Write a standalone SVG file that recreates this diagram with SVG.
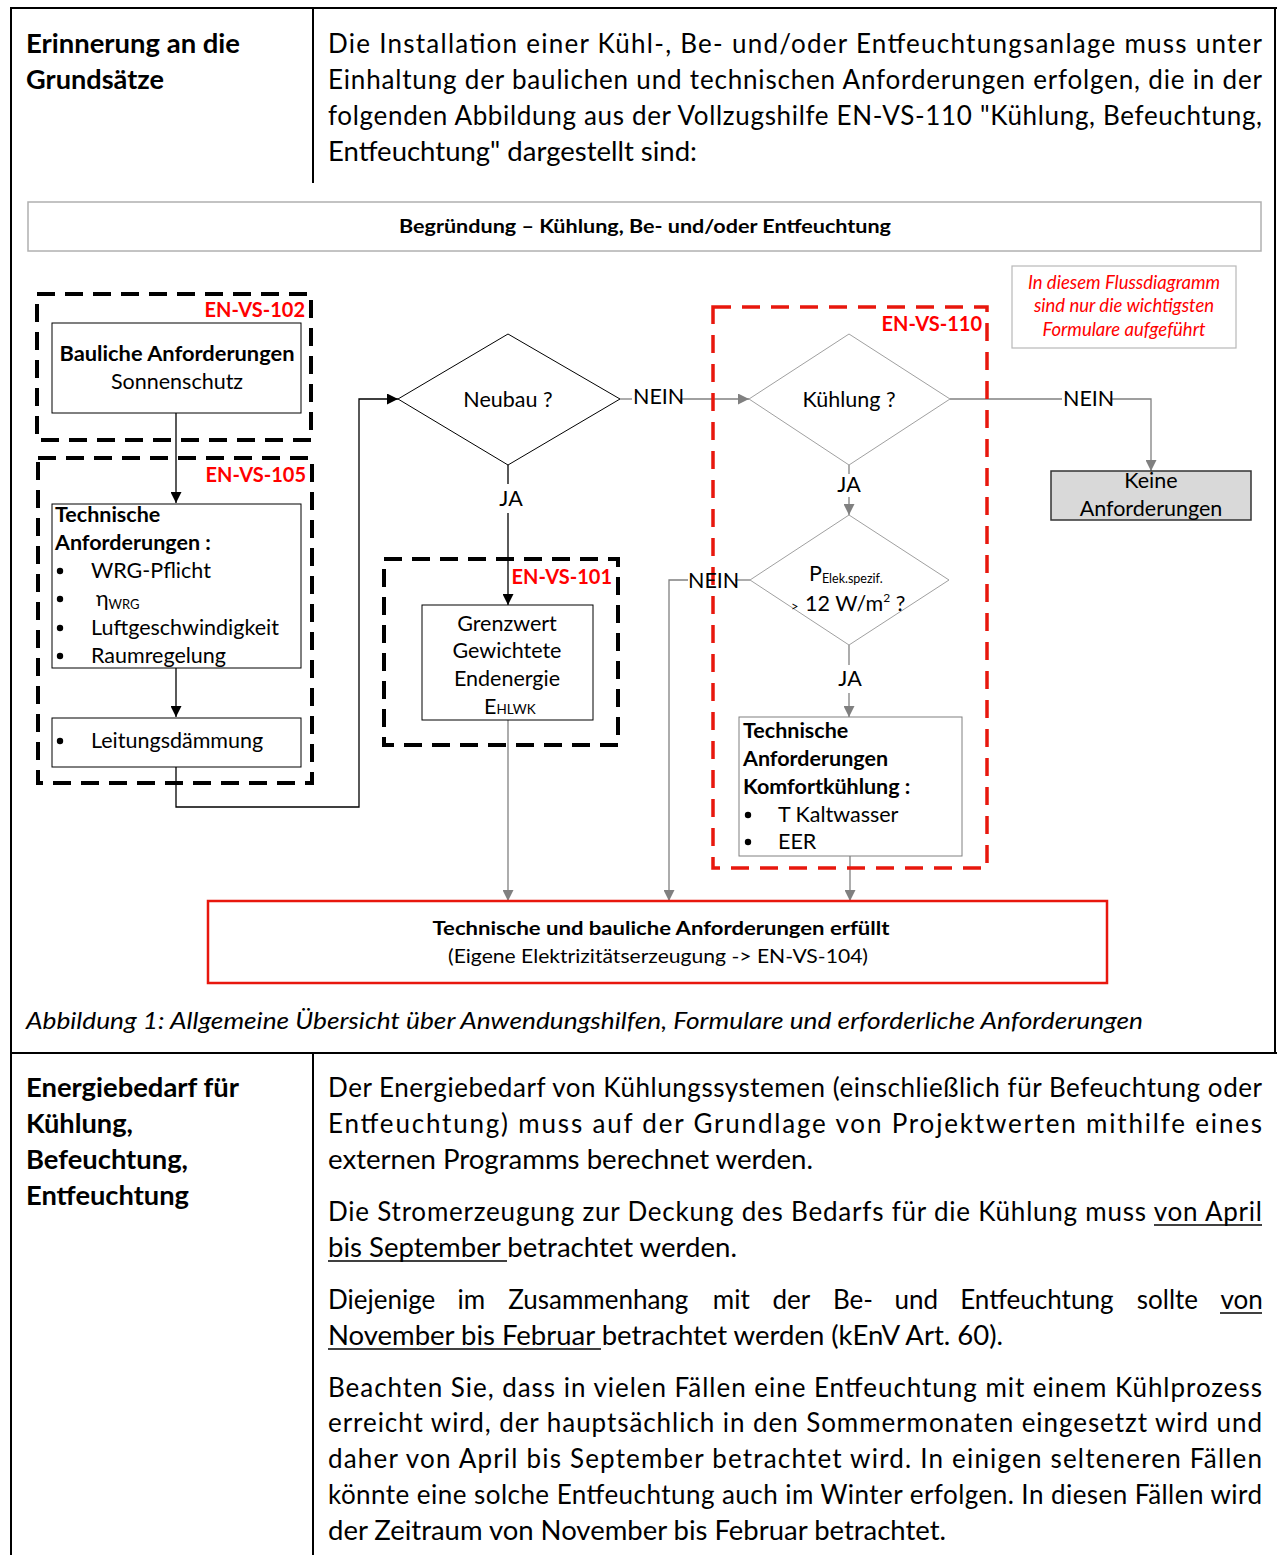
<svg xmlns="http://www.w3.org/2000/svg" width="1278" height="1555" viewBox="0 0 1278 1555">
<defs>
<style>
text{font-family:Lato,"Liberation Sans",sans-serif;fill:#000}
.body{font-size:26px}
.b{font-weight:bold}
.dg{font-size:21.5px}
.lab{font-size:20px;font-weight:bold;fill:#ff0000;text-anchor:end}
.note{font-size:18.5px;font-style:italic;fill:#ff0000;text-anchor:middle}
.mid{text-anchor:middle}
.tbl{stroke:#000;stroke-width:2;fill:none}
.bk{stroke:#000;stroke-width:1.3;fill:none}
.gr{stroke:#808080;stroke-width:1.3;fill:none}
.dashk{stroke:#000;stroke-width:4;fill:none;stroke-dasharray:18 10}
.dashr{stroke:#e8170d;stroke-width:3.5;fill:none;stroke-dasharray:18 11}
.box{fill:#fff;stroke:#000;stroke-width:1}
.gbox{fill:#fff;stroke:#808080;stroke-width:1}
.ul{stroke:#000;stroke-width:1.6}
</style>
<marker id="ak" markerUnits="userSpaceOnUse" markerWidth="11" markerHeight="11" refX="11" refY="5.5" orient="auto"><path d="M0,0 L11,5.5 L0,11 z" fill="#000"/></marker>
<marker id="ag" markerUnits="userSpaceOnUse" markerWidth="11" markerHeight="11" refX="11" refY="5.5" orient="auto"><path d="M0,0 L11,5.5 L0,11 z" fill="#808080"/></marker>
</defs>

<g id="table">
<line class="tbl" x1="10" y1="8" x2="1277" y2="8"/>
<line class="tbl" x1="11" y1="8" x2="11" y2="1555"/>
<line class="tbl" x1="1275" y1="8" x2="1275" y2="1053"/>
<line class="tbl" x1="313" y1="8" x2="313" y2="183"/>
<line class="tbl" x1="11" y1="1053" x2="1277" y2="1053"/>
<line class="tbl" x1="313" y1="1053" x2="313" y2="1555"/>
</g>

<g id="row1-text">
<text class="body b" x="26" y="53" textLength="214" lengthAdjust="spacingAndGlyphs">Erinnerung an die</text>
<text class="body b" x="26" y="89" textLength="138" lengthAdjust="spacingAndGlyphs">Grundsätze</text>
<text class="body" x="328" y="53" textLength="934" lengthAdjust="spacing">Die Installation einer Kühl-, Be- und/oder Entfeuchtungsanlage muss unter</text>
<text class="body" x="328" y="89" textLength="934" lengthAdjust="spacing">Einhaltung der baulichen und technischen Anforderungen erfolgen, die in der</text>
<text class="body" x="328" y="125" textLength="934" lengthAdjust="spacing">folgenden Abbildung aus der Vollzugshilfe EN-VS-110 "Kühlung, Befeuchtung,</text>
<text class="body" x="328" y="161" textLength="369" lengthAdjust="spacingAndGlyphs">Entfeuchtung" dargestellt sind:</text>
</g>

<g id="header">
<rect x="28" y="202" width="1233" height="49" fill="#fff" stroke="#b0b0b0" stroke-width="1.5"/>
<text class="b mid" x="645" y="233" font-size="18" textLength="492" lengthAdjust="spacingAndGlyphs">Begründung – Kühlung, Be- und/oder Entfeuchtung</text>
</g>

<g id="note">
<rect x="1012" y="266" width="224" height="82" fill="#fff" stroke="#b8b8b8" stroke-width="1.2"/>
<text class="note" x="1124" y="289">In diesem Flussdiagramm</text>
<text class="note" x="1124" y="312">sind nur die wichtigsten</text>
<text class="note" x="1124" y="336">Formulare aufgeführt</text>
</g>

<g id="connectors">
<line class="bk" x1="176" y1="413" x2="176" y2="503" marker-end="url(#ak)"/>
<line class="bk" x1="176" y1="668" x2="176" y2="717" marker-end="url(#ak)"/>
<polyline class="bk" points="176,767 176,807 359,807 359,399 398,399" marker-end="url(#ak)"/>
<line class="bk" x1="508" y1="465" x2="508" y2="484"/>
<line class="bk" x1="508" y1="513" x2="508" y2="605" marker-end="url(#ak)"/>
<line class="gr" x1="620" y1="399" x2="632" y2="399"/>
<line class="gr" x1="680" y1="399" x2="749" y2="399" marker-end="url(#ag)"/>
<line class="gr" x1="508" y1="720" x2="508" y2="901" marker-end="url(#ag)"/>
<line class="gr" x1="950" y1="399" x2="1062" y2="399"/>
<polyline class="gr" points="1110,399 1151,399 1151,471" marker-end="url(#ag)"/>
<line class="gr" x1="849" y1="465" x2="849" y2="474"/>
<line class="gr" x1="849" y1="497" x2="849" y2="515" marker-end="url(#ag)"/>
<line class="gr" x1="750" y1="580" x2="735" y2="580"/>
<polyline class="gr" points="688,580 669,580 669,901" marker-end="url(#ag)"/>
<line class="gr" x1="849" y1="645" x2="849" y2="665"/>
<line class="gr" x1="849" y1="693" x2="849" y2="717" marker-end="url(#ag)"/>
<line class="gr" x1="850" y1="856" x2="850" y2="901" marker-end="url(#ag)"/>
</g>

<g id="en-vs-102">
<rect class="dashk" x="37" y="294" width="274" height="146"/>
<text class="lab" x="305" y="317">EN-VS-102</text>
</g>
<g id="bauliche">
<rect class="box" x="52" y="323" width="249" height="90"/>
<text class="dg b mid" x="177" y="361" textLength="235" lengthAdjust="spacingAndGlyphs">Bauliche Anforderungen</text>
<text class="dg mid" x="177" y="389">Sonnenschutz</text>
</g>

<g id="en-vs-105">
<rect class="dashk" x="38" y="458" width="274" height="325"/>
<text class="lab" x="306" y="482">EN-VS-105</text>
</g>
<g id="technische">
<rect class="box" x="52" y="504" width="249" height="164"/>
<text class="dg b" x="55" y="522">Technische</text>
<text class="dg b" x="55" y="550">Anforderungen :</text>
<circle cx="60" cy="571" r="3.2"/>
<text class="dg" x="91" y="578">WRG-Pflicht</text>
<circle cx="60" cy="599" r="3.2"/>
<text class="dg" x="96" y="606">η<tspan font-size="13" dy="3">WRG</tspan></text>
<circle cx="60" cy="628" r="3.2"/>
<text class="dg" x="91" y="635">Luftgeschwindigkeit</text>
<circle cx="60" cy="656" r="3.2"/>
<text class="dg" x="91" y="663">Raumregelung</text>
</g>
<g id="leitung">
<rect class="box" x="52" y="718" width="249" height="49"/>
<circle cx="60" cy="741" r="3.2"/>
<text class="dg" x="91" y="748">Leitungsdämmung</text>
</g>

<g id="neubau">
<polygon points="398,399 508,334 620,399 508,465" fill="#fff" stroke="#000" stroke-width="1"/>
<text class="dg mid" x="508" y="407">Neubau ?</text>
<text class="dg" x="633" y="404">NEIN</text>
<text class="dg mid" x="511" y="506">JA</text>
</g>

<g id="en-vs-101">
<rect class="dashk" x="384" y="559" width="234" height="186"/>
<text class="lab" x="612" y="584">EN-VS-101</text>
</g>
<g id="grenzwert">
<rect class="box" x="422" y="605" width="171" height="115"/>
<text class="dg mid" x="507" y="631">Grenzwert</text>
<text class="dg mid" x="507" y="658">Gewichtete</text>
<text class="dg mid" x="507" y="686">Endenergie</text>
<text class="dg" x="484" y="714">E<tspan font-size="13.5">HLWK</tspan></text>
</g>

<g id="en-vs-110">
<rect class="dashr" x="713" y="307" width="274" height="561"/>
<text class="lab" x="982" y="331">EN-VS-110</text>
</g>
<g id="kuehlung">
<polygon points="749,399 849,334 950,399 849,465" fill="#fff" stroke="#a0a0a0" stroke-width="1"/>
<text class="dg mid" x="849" y="407">Kühlung ?</text>
<text class="dg" x="1063" y="406">NEIN</text>
<text class="dg mid" x="849" y="492">JA</text>
</g>
<g id="keine">
<rect x="1051" y="471" width="200" height="49" fill="#d9d9d9" stroke="#333" stroke-width="1.5"/>
<text class="dg mid" x="1151" y="488">Keine</text>
<text class="dg mid" x="1151" y="516">Anforderungen</text>
</g>
<g id="pelek">
<polygon points="750,580 849,515 949,580 849,645" fill="#fff" stroke="#a0a0a0" stroke-width="1"/>
<text class="dg" x="809" y="581">P<tspan font-size="12.5" dy="2">Elek.spezif.</tspan></text>
<text class="dg" x="791" y="611"><tspan font-size="13">&gt;</tspan><tspan x="805">12 W/m</tspan><tspan font-size="12" dy="-9">2</tspan><tspan dy="9"> ?</tspan></text>
<text class="dg" x="688" y="588">NEIN</text>
<text class="dg mid" x="850" y="686">JA</text>
</g>
<g id="komfort">
<rect class="gbox" x="739" y="717" width="223" height="139"/>
<text class="dg b" x="743" y="738">Technische</text>
<text class="dg b" x="743" y="766">Anforderungen</text>
<text class="dg b" x="743" y="794">Komfortkühlung :</text>
<circle cx="748" cy="815" r="3.2"/>
<text class="dg" x="778" y="822">T Kaltwasser</text>
<circle cx="748" cy="842" r="3.2"/>
<text class="dg" x="778" y="849">EER</text>
</g>

<g id="erfuellt">
<rect x="208" y="901" width="899" height="82" fill="#fff" stroke="#e8170d" stroke-width="2.5"/>
<text class="b mid" x="661" y="935" font-size="19" textLength="457" lengthAdjust="spacingAndGlyphs">Technische und bauliche Anforderungen erfüllt</text>
<text class="mid" x="658" y="963" font-size="19" textLength="420" lengthAdjust="spacingAndGlyphs">(Eigene Elektrizitätserzeugung  -&gt; EN-VS-104)</text>
</g>

<g id="caption">
<text x="26" y="1029" font-size="24" font-style="italic" textLength="1117" lengthAdjust="spacingAndGlyphs">Abbildung 1: Allgemeine Übersicht über Anwendungshilfen, Formulare und erforderliche Anforderungen</text>
</g>

<g id="row2-text">
<text class="body b" x="26" y="1097" textLength="213" lengthAdjust="spacingAndGlyphs">Energiebedarf für</text>
<text class="body b" x="26" y="1133" textLength="107" lengthAdjust="spacingAndGlyphs">Kühlung,</text>
<text class="body b" x="26" y="1169" textLength="162" lengthAdjust="spacingAndGlyphs">Befeuchtung,</text>
<text class="body b" x="26" y="1205" textLength="163" lengthAdjust="spacingAndGlyphs">Entfeuchtung</text>

<text class="body" x="328" y="1097" textLength="934" lengthAdjust="spacing">Der Energiebedarf von Kühlungssystemen (einschließlich für Befeuchtung oder</text>
<text class="body" x="328" y="1133" textLength="934" lengthAdjust="spacing">Entfeuchtung) muss auf der Grundlage von Projektwerten mithilfe eines</text>
<text class="body" x="328" y="1169" textLength="485" lengthAdjust="spacingAndGlyphs">externen Programms berechnet werden.</text>

<text class="body" x="328" y="1221" textLength="934" lengthAdjust="spacing">Die Stromerzeugung zur Deckung des Bedarfs für die Kühlung muss von April</text>
<line class="ul" x1="1154" y1="1225" x2="1262" y2="1225"/>
<text class="body" x="328" y="1257" textLength="409" lengthAdjust="spacingAndGlyphs">bis September betrachtet werden.</text>
<line class="ul" x1="328" y1="1261" x2="507" y2="1261"/>

<text class="body" y="1309"><tspan x="328">Diejenige</tspan><tspan x="457.6">im</tspan><tspan x="508.2">Zusammenhang</tspan><tspan x="712.8">mit</tspan><tspan x="772.4">der</tspan><tspan x="833">Be-</tspan><tspan x="894.6">und</tspan><tspan x="960.2">Entfeuchtung</tspan><tspan x="1136.8">sollte</tspan><tspan x="1220.4">von</tspan></text>
<line class="ul" x1="1220" y1="1313" x2="1262" y2="1313"/>
<text class="body" x="328" y="1345" textLength="675" lengthAdjust="spacingAndGlyphs">November bis Februar betrachtet werden (kEnV Art. 60).</text>
<line class="ul" x1="328" y1="1349" x2="601" y2="1349"/>

<text class="body" x="328" y="1397" textLength="934" lengthAdjust="spacing">Beachten Sie, dass in vielen Fällen eine Entfeuchtung mit einem Kühlprozess</text>
<text class="body" x="328" y="1432" textLength="934" lengthAdjust="spacing">erreicht wird, der hauptsächlich in den Sommermonaten eingesetzt wird und</text>
<text class="body" x="328" y="1468" textLength="934" lengthAdjust="spacing">daher von April bis September betrachtet wird. In einigen selteneren Fällen</text>
<text class="body" x="328" y="1504" textLength="934" lengthAdjust="spacing">könnte eine solche Entfeuchtung auch im Winter erfolgen. In diesen Fällen wird</text>
<text class="body" x="328" y="1540" textLength="618" lengthAdjust="spacingAndGlyphs">der Zeitraum von November bis Februar betrachtet.</text>
</g>
</svg>
